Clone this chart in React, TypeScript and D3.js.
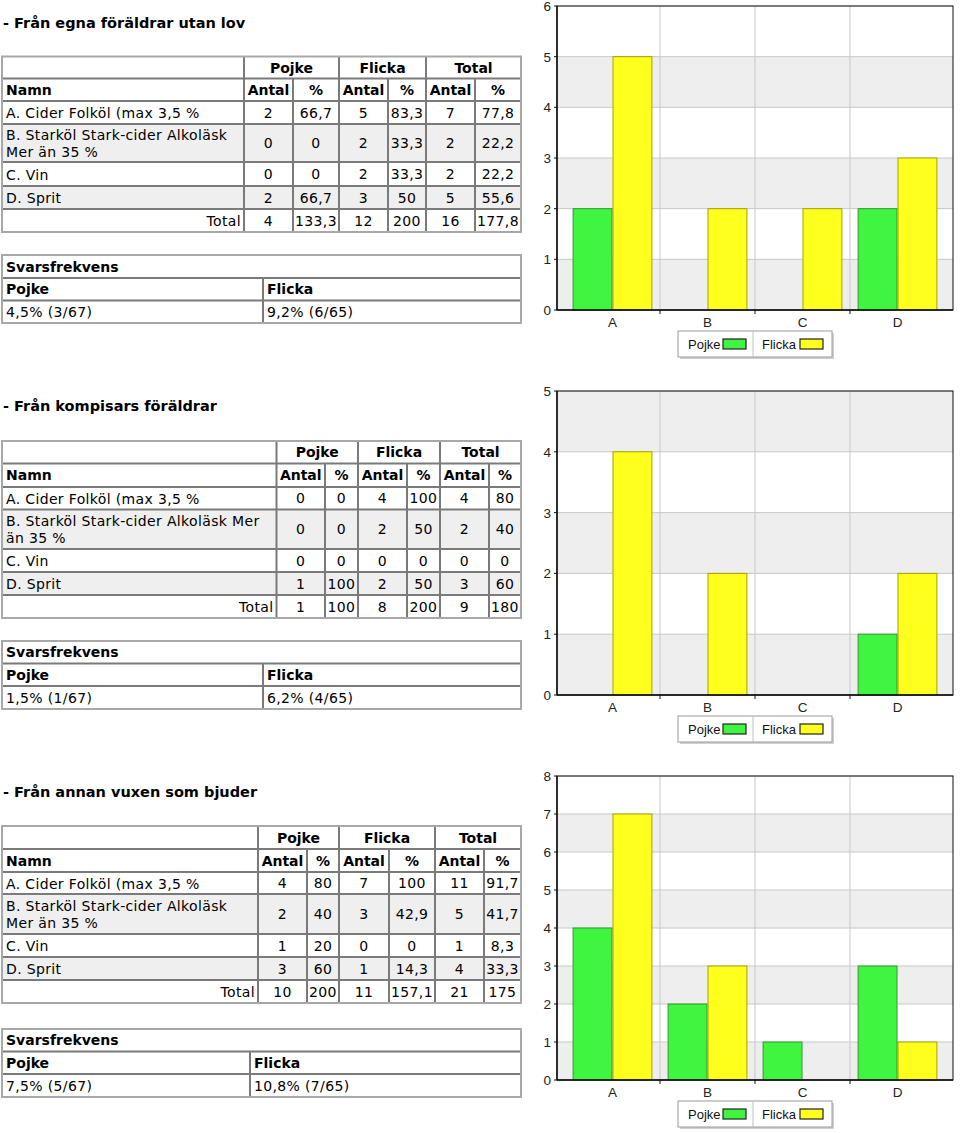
import React from "react";
import * as d3 from "d3";

// ---------- data ----------
const categories = ["A", "B", "C", "D"];
const seriesNames = ["Pojke", "Flicka"];
const rowNames = [
  "A. Cider Folköl (max 3,5 %",
  "B. Starköl Stark-cider Alkoläsk Mer än 35 %",
  "C. Vin",
  "D. Sprit",
];
const groupHeaders = ["Pojke", "Flicka", "Total"];
const subHeaders = ["Antal", "%"];
const namnLabel = "Namn";
const totalLabel = "Total";
const svarLabel = "Svarsfrekvens";

// Section 1
const s1Title = "- Från egna föräldrar utan lov";
const s1PojkeAntal = [2, 0, 0, 2];
const s1PojkePct = ["66,7", "0", "0", "66,7"];
const s1FlickaAntal = [5, 2, 2, 3];
const s1FlickaPct = ["83,3", "33,3", "33,3", "50"];
const s1TotalAntal = [7, 2, 2, 5];
const s1TotalPct = ["77,8", "22,2", "22,2", "55,6"];
const s1Totals = ["4", "133,3", "12", "200", "16", "177,8"];
const s1Svar = ["4,5% (3/67)", "9,2% (6/65)"];
const s1YMax = 6;

// Section 2
const s2Title = "- Från kompisars föräldrar";
const s2PojkeAntal = [0, 0, 0, 1];
const s2PojkePct = ["0", "0", "0", "100"];
const s2FlickaAntal = [4, 2, 0, 2];
const s2FlickaPct = ["100", "50", "0", "50"];
const s2TotalAntal = [4, 2, 0, 3];
const s2TotalPct = ["80", "40", "0", "60"];
const s2Totals = ["1", "100", "8", "200", "9", "180"];
const s2Svar = ["1,5% (1/67)", "6,2% (4/65)"];
const s2YMax = 5;

// Section 3
const s3Title = "- Från annan vuxen som bjuder";
const s3PojkeAntal = [4, 2, 1, 3];
const s3PojkePct = ["80", "40", "20", "60"];
const s3FlickaAntal = [7, 3, 0, 1];
const s3FlickaPct = ["100", "42,9", "0", "14,3"];
const s3TotalAntal = [11, 5, 1, 4];
const s3TotalPct = ["91,7", "41,7", "8,3", "33,3"];
const s3Totals = ["10", "200", "11", "157,1", "21", "175"];
const s3Svar = ["7,5% (5/67)", "10,8% (7/65)"];
const s3YMax = 8;

// ---------- layout ----------
const TABLE_FONT = "'DejaVu Sans', Verdana, sans-serif";
const CHART_FONT = "'Liberation Sans', Arial, sans-serif";
const FS = 14;
const LS = 0.35;
const FSB = 14;

const layouts = [
  {
    titleY: 24,
    rows: [56.5, 78.5, 101, 124, 162, 186, 209, 232],
    cols: [2, 244, 293, 339, 388, 426, 475, 521],
    svar: [255, 278, 300.5, 323],
    svarDiv: 263,
    plotTop: 6,
    plotBottom: 310,
  },
  {
    titleY: 407,
    rows: [441, 463.5, 487, 509.5, 549, 572, 595, 618],
    cols: [2, 276.5, 325, 358, 407, 440, 489, 521],
    svar: [641, 663.5, 686, 709],
    svarDiv: 263,
    plotTop: 391,
    plotBottom: 695,
  },
  {
    titleY: 793,
    rows: [826, 849, 872, 894, 934, 957, 980, 1003],
    cols: [2, 258, 307, 339, 389, 435, 484, 521],
    svar: [1029, 1051.5, 1074, 1097],
    svarDiv: 250,
    plotTop: 776,
    plotBottom: 1080,
  },
];

const sections = [
  {
    title: s1Title,
    cells: [s1PojkeAntal, s1PojkePct, s1FlickaAntal, s1FlickaPct, s1TotalAntal, s1TotalPct],
    totals: s1Totals,
    svar: s1Svar,
    yMax: s1YMax,
    pojke: s1PojkeAntal,
    flicka: s1FlickaAntal,
  },
  {
    title: s2Title,
    cells: [s2PojkeAntal, s2PojkePct, s2FlickaAntal, s2FlickaPct, s2TotalAntal, s2TotalPct],
    totals: s2Totals,
    svar: s2Svar,
    yMax: s2YMax,
    pojke: s2PojkeAntal,
    flicka: s2FlickaAntal,
  },
  {
    title: s3Title,
    cells: [s3PojkeAntal, s3PojkePct, s3FlickaAntal, s3FlickaPct, s3TotalAntal, s3TotalPct],
    totals: s3Totals,
    svar: s3Svar,
    yMax: s3YMax,
    pojke: s3PojkeAntal,
    flicka: s3FlickaAntal,
  },
];

let measureCtx: CanvasRenderingContext2D | null = null;
function measure(text: string, font: string) {
  if (!measureCtx) {
    const c = document.createElement("canvas");
    measureCtx = c.getContext("2d");
  }
  if (!measureCtx) return text.length * 7.5;
  measureCtx.font = font;
  return measureCtx.measureText(text).width + text.length * LS;
}
function wrap(text: string, width: number) {
  const words = text.split(" ");
  const lines: string[] = [];
  let cur = "";
  const font = `${FS}px ${TABLE_FONT}`;
  words.forEach((w) => {
    const t = cur ? cur + " " + w : w;
    if (measure(t, font) > width && cur) {
      lines.push(cur);
      cur = w;
    } else cur = t;
  });
  if (cur) lines.push(cur);
  return lines;
}

const BORDER_IN = "#7a7a7a";
const BORDER_OUT = "#a8a8a8";
const ROW_ALT = "#efefef";

function DataTable({ lay, sec }: any) {
  const { rows, cols } = lay;
  const L = cols[0];
  const R = cols[cols.length - 1];
  const els: any[] = [];
  const mid = (a: number, b: number) => (a + b) / 2;
  [1, 3].forEach((i) => {
    els.push(
      <rect key={"bg" + i} x={L} y={rows[2 + i]} width={R - L} height={rows[3 + i] - rows[2 + i]} fill={ROW_ALT} />
    );
  });
  groupHeaders.forEach((g, i) => {
    els.push(
      <text key={"gh" + i} x={mid(cols[1 + i * 2], cols[3 + i * 2])} y={mid(rows[0], rows[1]) + 5} textAnchor="middle" fontWeight="bold" fontSize={FSB}>
        {g}
      </text>
    );
  });
  els.push(
    <text key="namn" x={L + 4} y={mid(rows[1], rows[2]) + 5} fontWeight="bold" fontSize={FSB}>
      {namnLabel}
    </text>
  );
  for (let c = 0; c < 6; c++) {
    els.push(
      <text key={"sh" + c} x={mid(cols[1 + c], cols[2 + c])} y={mid(rows[1], rows[2]) + 5} textAnchor="middle" fontWeight="bold" fontSize={FSB}>
        {subHeaders[c % 2]}
      </text>
    );
  }
  rowNames.forEach((name, r) => {
    const y0 = rows[2 + r];
    const y1 = rows[3 + r];
    const lines = wrap(name, cols[1] - cols[0] - 7);
    const lh = 17;
    const startY = mid(y0, y1) - ((lines.length - 1) * lh) / 2 + 5.5;
    lines.forEach((ln, li) => {
      els.push(
        <text key={`n${r}-${li}`} x={L + 4} y={startY + li * lh} letterSpacing={LS}>
          {ln}
        </text>
      );
    });
    sec.cells.forEach((col: any[], c: number) => {
      els.push(
        <text key={`c${r}-${c}`} x={mid(cols[1 + c], cols[2 + c])} y={mid(y0, y1) + 5} textAnchor="middle" letterSpacing={LS}>
          {String(col[r])}
        </text>
      );
    });
  });
  els.push(
    <text key="tot" x={cols[1] - 3} y={mid(rows[6], rows[7]) + 5} textAnchor="end" letterSpacing={LS}>
      {totalLabel}
    </text>
  );
  sec.totals.forEach((v: string, c: number) => {
    els.push(
      <text key={"t" + c} x={mid(cols[1 + c], cols[2 + c])} y={mid(rows[6], rows[7]) + 5} textAnchor="middle" letterSpacing={LS}>
        {v}
      </text>
    );
  });
  for (let i = 1; i < rows.length - 1; i++) {
    els.push(<line key={"h" + i} x1={L} x2={R} y1={rows[i]} y2={rows[i]} stroke={BORDER_IN} strokeWidth={2} />);
  }
  for (let c = 1; c < cols.length - 1; c++) {
    const startRow = c % 2 === 1 ? rows[0] : rows[1];
    els.push(<line key={"v" + c} x1={cols[c]} x2={cols[c]} y1={startRow} y2={rows[rows.length - 1]} stroke={BORDER_IN} strokeWidth={2} />);
  }
  els.push(
    <rect key="outer" x={L} y={rows[0]} width={R - L} height={rows[rows.length - 1] - rows[0]} fill="none" stroke={BORDER_OUT} strokeWidth={2} />
  );
  return <g>{els}</g>;
}

function SvarTable({ lay, sec }: any) {
  const L = lay.cols[0];
  const R = lay.cols[lay.cols.length - 1];
  const s = lay.svar;
  const d = lay.svarDiv;
  const mid = (a: number, b: number) => (a + b) / 2;
  return (
    <g>
      <text x={L + 4} y={mid(s[0], s[1]) + 5} fontWeight="bold" fontSize={FSB}>{svarLabel}</text>
      <text x={L + 4} y={mid(s[1], s[2]) + 5} fontWeight="bold" fontSize={FSB}>{seriesNames[0]}</text>
      <text x={d + 4} y={mid(s[1], s[2]) + 5} fontWeight="bold" fontSize={FSB}>{seriesNames[1]}</text>
      <text x={L + 4} y={mid(s[2], s[3]) + 5} letterSpacing={LS}>{sec.svar[0]}</text>
      <text x={d + 4} y={mid(s[2], s[3]) + 5} letterSpacing={LS}>{sec.svar[1]}</text>
      <line x1={L} x2={R} y1={s[1]} y2={s[1]} stroke={BORDER_IN} strokeWidth={2} />
      <line x1={L} x2={R} y1={s[2]} y2={s[2]} stroke={BORDER_IN} strokeWidth={2} />
      <line x1={d} x2={d} y1={s[1]} y2={s[3]} stroke={BORDER_IN} strokeWidth={2} />
      <rect x={L} y={s[0]} width={R - L} height={s[3] - s[0]} fill="none" stroke={BORDER_OUT} strokeWidth={2} />
    </g>
  );
}

const PLOT_L = 557;
const PLOT_R = 953;
const GREEN = "#3ff53f";
const GREEN_STROKE = "#2f9a2f";
const YELLOW = "#ffff1e";
const YELLOW_STROKE = "#a3a300";
const fills = [GREEN, YELLOW];
const strokes = [GREEN_STROKE, YELLOW_STROKE];
const CFS = 13.5;

function BarChart({ lay, sec }: any) {
  const top = lay.plotTop;
  const bottom = lay.plotBottom;
  const y = d3.scaleLinear().domain([0, sec.yMax]).range([bottom, top]);
  const x0 = d3.scaleBand<string>().domain(categories).range([PLOT_L + 8, PLOT_R - 8]).paddingInner(0.16).paddingOuter(0.08);
  const x1 = d3.scaleBand<string>().domain(seriesNames).range([0, x0.bandwidth()]);
  const ticks = d3.range(0, sec.yMax + 1);
  const step = x0.step();
  const boundaries = categories.slice(1).map((c) => (x0(c) as number) - (step - x0.bandwidth()) / 2);
  const values = [sec.pojke, sec.flicka];
  const legTop = bottom + 21;
  return (
    <g fontFamily={CHART_FONT}>
      <rect x={PLOT_L} y={top} width={PLOT_R - PLOT_L} height={bottom - top} fill="#fff" />
      {ticks.slice(0, -1).map((t) =>
        t % 2 === 0 ? (
          <rect key={"band" + t} x={PLOT_L} y={y(t + 1)} width={PLOT_R - PLOT_L} height={y(t) - y(t + 1)} fill="#eeeeee" />
        ) : null
      )}
      {ticks.map((t) => (
        <line key={"gy" + t} x1={PLOT_L} x2={PLOT_R} y1={y(t)} y2={y(t)} stroke="#c8c8c8" strokeWidth={1} />
      ))}
      {boundaries.map((b, i) => (
        <line key={"gx" + i} x1={b} x2={b} y1={top} y2={bottom} stroke="#c8c8c8" strokeWidth={1} />
      ))}
      {categories.map((c, ci) =>
        seriesNames.map((s, si) => {
          const v = values[si][ci];
          if (!v) return null;
          const bx = (x0(c) as number) + (x1(s) as number);
          return (
            <rect
              key={c + s}
              x={bx + 0.5}
              y={y(v)}
              width={x1.bandwidth() - 1}
              height={y(0) - y(v)}
              fill={fills[si]}
              stroke={strokes[si]}
              strokeWidth={1}
            />
          );
        })
      )}
      <rect x={PLOT_L} y={top} width={PLOT_R - PLOT_L} height={bottom - top} fill="none" stroke="#111" strokeWidth={1} />
      <line x1={PLOT_L} x2={PLOT_L} y1={top} y2={bottom} stroke="#111" strokeWidth={1.5} />
      <line x1={PLOT_L} x2={PLOT_R} y1={bottom} y2={bottom} stroke="#111" strokeWidth={1.5} />
      {boundaries.map((b, i) => (
        <line key={"tx" + i} x1={b} x2={b} y1={bottom} y2={bottom + 4} stroke="#111" strokeWidth={1} />
      ))}
      {ticks.map((t) => (
        <g key={"ty" + t}>
          <line x1={PLOT_L - 3} x2={PLOT_L} y1={y(t)} y2={y(t)} stroke="#111" strokeWidth={1} />
          <text x={PLOT_L - 6} y={y(t) + 5} textAnchor="end" fontSize={CFS} fill="#222">
            {t}
          </text>
        </g>
      ))}
      {categories.map((c) => (
        <text key={"cl" + c} x={(x0(c) as number) + x0.bandwidth() / 2} y={bottom + 17} textAnchor="middle" fontSize={CFS} fill="#222">
          {c}
        </text>
      ))}
      <g>
        <rect x={680} y={legTop + 2} width={154} height={26} fill="#d0d0d0" />
        <rect x={678} y={legTop} width={154} height={26} fill="#fff" stroke="#9a9a9a" strokeWidth={1} />
        <line x1={753} x2={753} y1={legTop} y2={legTop + 26} stroke="#c0c0c0" />
        <text x={688} y={legTop + 18} fontSize={13} fill="#111">{seriesNames[0]}</text>
        <rect x={723} y={legTop + 8} width={23} height={10} fill={GREEN} stroke="#222" strokeWidth={1.2} />
        <text x={762} y={legTop + 18} fontSize={13} fill="#111">{seriesNames[1]}</text>
        <rect x={800} y={legTop + 8} width={23} height={10} fill={YELLOW} stroke="#222" strokeWidth={1.2} />
      </g>
    </g>
  );
}

export default function App() {
  return (
    <svg
      width={960}
      height={1133}
      style={{ position: "absolute", left: 0, top: 0, background: "#fff" }}
      fontFamily={TABLE_FONT}
      fontSize={FS}
    >
      <rect x={0} y={0} width={960} height={1133} fill="#fff" />
      {sections.map((sec, i) => {
        const lay = layouts[i];
        return (
          <g key={i}>
            <text x={3} y={lay.titleY + 4} fontWeight="bold" fontSize={14.5}>
              {sec.title}
            </text>
            <DataTable lay={lay} sec={sec} />
            <SvarTable lay={lay} sec={sec} />
            <BarChart lay={lay} sec={sec} />
          </g>
        );
      })}
    </svg>
  );
}
